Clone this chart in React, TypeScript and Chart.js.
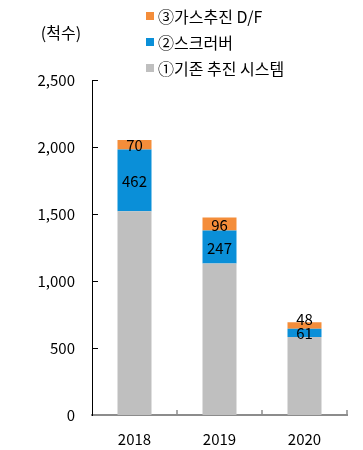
import React, { useEffect, useRef } from "react";
import { Chart, registerables } from "chart.js";

Chart.register(...registerables);

const categories = ["2018", "2019", "2020"];
const conventional = [1520, 1130, 583];
const scrubber = [462, 247, 61];
const gasDF = [70, 96, 48];
const seriesLabels = ["①기존 추진 시스템", "②스크러버", "③가스추진 D/F"];
const seriesColors = ["#BFBFBF", "#0A8FD8", "#F48D3A"];
const yTicks = [0, 500, 1000, 1500, 2000, 2500];
const unitLabel = "(척수)";

const FONT = "'Noto Sans CJK KR', 'Noto Sans', sans-serif";

const overlayPlugin = {
  id: "overlay",
  afterDatasetsDraw(chart: any) {
    const ctx = chart.ctx;
    const area = chart.chartArea;
    const yScale = chart.scales.y;
    ctx.save();
    // inner y ticks
    ctx.strokeStyle = "#000";
    ctx.lineWidth = 1;
    yTicks.forEach((v) => {
      if (v === 0) return;
      const y = Math.round(yScale.getPixelForValue(v)) + 0.5;
      ctx.beginPath();
      ctx.moveTo(area.left, y);
      ctx.lineTo(area.left + 6, y);
      ctx.stroke();
    });
    // x axis category boundary ticks
    ctx.strokeStyle = "#8C8C8C";
    ctx.lineWidth = 1.5;
    const n = categories.length;
    for (let i = 1; i <= n; i++) {
      const x = area.left + ((area.right - area.left) * i) / n;
      ctx.beginPath();
      ctx.moveTo(x, area.bottom);
      ctx.lineTo(x, area.bottom - 5);
      ctx.stroke();
    }
    // data labels
    ctx.fillStyle = "#000";
    ctx.font = `15px ${FONT}`;
    ctx.textAlign = "center";
    ctx.textBaseline = "middle";
    for (let d = 1; d < chart.data.datasets.length; d++) {
      const meta = chart.getDatasetMeta(d);
      meta.data.forEach((bar: any, i: number) => {
        const val = chart.data.datasets[d].data[i];
        const top = Math.min(bar.y, bar.base);
        const bottom = Math.max(bar.y, bar.base);
        const h = bottom - top;
        let y = (top + bottom) / 2;
        if (d === chart.data.datasets.length - 1 && h < 9) y = top - 4;
        ctx.fillText(String(val), bar.x, y + 1);
      });
    }
    // legend (reversed order)
    ctx.textAlign = "left";
    ctx.font = `16px ${FONT}`;
    const rows = [2, 1, 0];
    rows.forEach((s, r) => {
      const cy = 16 + r * 26;
      ctx.fillStyle = seriesColors[s];
      ctx.fillRect(146, cy - 4, 8, 8);
      ctx.fillStyle = "#000";
      ctx.fillText(seriesLabels[s], 158, cy + 1);
    });
    // unit label
    ctx.font = `16px ${FONT}`;
    ctx.textAlign = "center";
    ctx.fillText(unitLabel, 61, 33);
    ctx.restore();
  },
};

export default function App() {
  const ref = useRef<HTMLCanvasElement>(null);
  useEffect(() => {
    document.body.style.margin = "0";
    const chart = new Chart(ref.current!, {
      type: "bar",
      data: {
        labels: categories,
        datasets: [
          { label: seriesLabels[0], data: conventional, backgroundColor: seriesColors[0] },
          { label: seriesLabels[1], data: scrubber, backgroundColor: seriesColors[1] },
          { label: seriesLabels[2], data: gasDF, backgroundColor: seriesColors[2] },
        ],
      },
      options: {
        animation: false,
        responsive: false,
        layout: { padding: { top: 80, right: 16, left: 0, bottom: 0 } },
        datasets: { bar: { categoryPercentage: 1, barPercentage: 0.4, borderWidth: 0 } },
        plugins: { legend: { display: false }, tooltip: { enabled: false } },
        scales: {
          x: {
            stacked: true,
            grid: { display: false, drawTicks: false },
            border: { display: true, color: "#8C8C8C", width: 2 },
            ticks: { color: "#000", font: { size: 15, family: FONT }, padding: 15 },
            afterFit: (s: any) => { s.height = 35; },
          },
          y: {
            stacked: true,
            min: 0,
            max: 2500,
            grid: { display: false, drawTicks: false },
            border: { display: true, color: "#000", width: 1 },
            ticks: {
              stepSize: 500,
              color: "#000",
              padding: 17,
              font: { size: 15, family: FONT },
              callback: (v: any) => Number(v).toLocaleString("en-US"),
            },
            afterFit: (s: any) => { s.width = 92; },
          },
        },
      },
      plugins: [overlayPlugin],
    });
    return () => chart.destroy();
  }, []);
  return (
    <div style={{ width: 363, height: 450 }}>
      <canvas ref={ref} width={363} height={450} />
    </div>
  );
}
